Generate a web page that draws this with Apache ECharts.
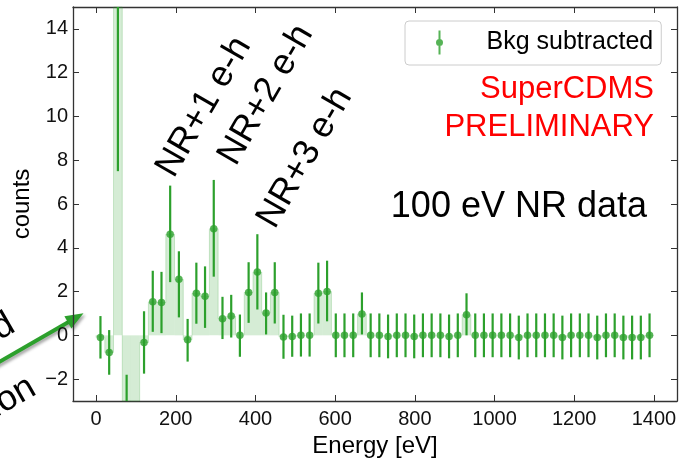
<!DOCTYPE html>
<html>
<head>
<meta charset="utf-8">
<script src="https://cdn.jsdelivr.net/npm/echarts@6/dist/echarts.min.js"></script>
<style>
  html, body { margin: 0; padding: 0; background: #fff; }
  #chart { width: 681px; height: 458px; }
</style>
</head>
<body>
<div id="chart"></div>
<script>
// bin centres [eV], 64 bins of 21.875 eV
const energy = [
  10.9, 32.8, 54.7, 76.6, 98.4, 120.3, 142.2, 164.1, 185.9, 207.8,
  229.7, 251.6, 273.4, 295.3, 317.2, 339.1, 360.9, 382.8, 404.7, 426.6,
  448.4, 470.3, 492.2, 514.1, 535.9, 557.8, 579.7, 601.6, 623.4, 645.3,
  667.2, 689.1, 710.9, 732.8, 754.7, 776.6, 798.4, 820.3, 842.2, 864.1,
  885.9, 907.8, 929.7, 951.6, 973.4, 995.3, 1017.2, 1039.1, 1060.9, 1082.8,
  1104.7, 1126.6, 1148.4, 1170.3, 1192.2, 1214.1, 1235.9, 1257.8, 1279.7, 1301.6,
  1323.4, 1345.3, 1367.2, 1389.1
];
const BIN_WIDTH = 21.875;

// background subtracted counts
const counts = [
  -0.1, -0.78, 20, -5.5, -6, -0.33, 1.53, 1.5, 4.62, 2.56,
  -0.2, 1.92, 1.78, 4.87, 0.76, 0.88, 0, 1.96, 2.89, 1.02,
  1.96, -0.08, -0.05, 0, 0, 1.92, 2.0, 0, 0, 0,
  0.98, 0, 0, -0.05, 0, 0, -0.05, 0, 0, 0,
  -0.05, 0, 0.94, 0, 0, 0, 0, 0, -0.1, 0,
  0, 0, 0, -0.1, 0, 0, 0, -0.1, 0, 0,
  -0.1, -0.1, -0.1, 0
];
// error bar ends
const barLow = [
  -1.06, -1.8, 7.5, -9.2, -8.5, -1.75, 0.16, 0.1, 2.43, 0.82,
  -1.2, 0.53, 0.34, 2.68, -0.17, -0.1, -0.98, 0.57, 1.18, 0.04,
  0.54, -1.07, -0.98, -0.97, -0.97, 0.54, 0.64, -1.0, -1.0, -1.0,
  0.04, -1.0, -1.0, -1.05, -1.0, -1.0, -1.05, -1.0, -1.0, -1.0,
  -1.05, -1.0, 0.0, -1.0, -1.0, -1.0, -1.0, -1.0, -1.1, -1.0,
  -1.0, -1.0, -1.0, -1.1, -1.0, -1.0, -1.0, -1.1, -1.0, -1.0,
  -1.1, -1.1, -1.1, -1.0
];
const barHigh = [
  0.88, 0.24, 32.5, -1.8, -3.5, 1.1, 2.95, 2.9, 6.84, 3.84,
  0.75, 3.32, 3.15, 7.1, 1.76, 1.85, 0.95, 3.34, 4.62, 1.96,
  3.34, 0.94, 0.9, 1.0, 1.0, 3.32, 3.41, 1.0, 1.0, 1.0,
  1.96, 1.0, 1.0, 0.95, 1.0, 1.0, 0.95, 1.0, 1.0, 1.0,
  0.95, 1.0, 1.92, 1.0, 1.0, 1.0, 1.0, 1.0, 0.9, 1.0,
  1.0, 1.0, 1.0, 0.9, 1.0, 1.0, 1.0, 0.9, 1.0, 1.0,
  0.9, 0.9, 0.9, 1.0
];

const xTicks = [0, 200, 400, 600, 800, 1000, 1200, 1400];
const yTicks = [-2, 0, 2, 4, 6, 8, 10, 12, 14];
const X_MIN = -58, X_MAX = 1458, Y_MIN = -3, Y_MAX = 15;

const green = '#2ca02c';
const font = "'Liberation Sans', Arial, sans-serif";

const clampY = (v) => Math.max(Y_MIN, Math.min(Y_MAX, v));

const chart = echarts.init(document.getElementById('chart'));

const axisLineStyle = { color: '#333', width: 1.3 };
const tickStyle = { show: true, inside: true, length: 6, lineStyle: { color: '#333', width: 1 } };

const option = {
  animation: false,
  textStyle: { fontFamily: font },
  grid: { left: 73, top: 7, width: 604, height: 394, containLabel: false, outerBoundsMode: 'none' },
  legend: {
    data: ['Bkg subtracted'],
    left: 405,
    top: 21,
    padding: [9, 8, 10, 31],
    itemWidth: 20,
    itemHeight: 24,
    icon: 'path://M2.5,0L4.5,0L4.5,24L2.5,24Z M7,12A3.5,3.5,0,1,1,0,12A3.5,3.5,0,1,1,7,12Z',
    selectedMode: false,
    backgroundColor: 'rgba(255,255,255,0.8)',
    borderColor: '#cccccc',
    borderWidth: 1,
    borderRadius: 4,
    textStyle: { fontSize: 25, color: '#000', fontFamily: font, padding: [0, 0, 0, 32] }
  },
  xAxis: [
    {
      type: 'value', min: X_MIN, max: X_MAX,
      name: 'Energy [eV]', nameLocation: 'middle', nameGap: 31,
      nameTextStyle: { fontSize: 24, color: '#000', fontFamily: font },
      axisLine: { show: true, onZero: false, lineStyle: axisLineStyle },
      axisTick: Object.assign({ customValues: xTicks }, tickStyle),
      axisLabel: { customValues: xTicks, fontSize: 20, color: '#111', margin: 8, fontFamily: font, formatter: (v) => String(v) },
      splitLine: { show: false }
    },
    {
      type: 'value', min: X_MIN, max: X_MAX, position: 'top',
      axisLine: { show: true, onZero: false, lineStyle: axisLineStyle },
      axisTick: Object.assign({ customValues: xTicks }, tickStyle),
      axisLabel: { show: false },
      splitLine: { show: false }
    }
  ],
  yAxis: [
    {
      type: 'value', min: Y_MIN, max: Y_MAX,
      name: 'counts', nameLocation: 'middle', nameGap: 30,
      nameTextStyle: { fontSize: 24, color: '#000', fontFamily: font },
      axisLine: { show: true, onZero: false, lineStyle: axisLineStyle },
      axisTick: Object.assign({ customValues: yTicks }, tickStyle),
      axisLabel: { customValues: yTicks, fontSize: 20, color: '#111', margin: 5, fontFamily: font, padding: [4, 0, 0, 0], formatter: (v) => String(v).replace('-', '\u2212') },
      splitLine: { show: false }
    },
    {
      type: 'value', min: Y_MIN, max: Y_MAX, position: 'right',
      axisLine: { show: true, onZero: false, lineStyle: axisLineStyle },
      axisTick: Object.assign({ customValues: yTicks }, tickStyle),
      axisLabel: { show: false },
      splitLine: { show: false }
    }
  ],
  series: [
    // shaded steps between 0 and each bin value
    {
      type: 'custom',
      name: 'steps',
      z: 1,
      silent: true,
      data: energy.map((e, i) => [e, counts[i], i]),
      renderItem: function (params, api) {
        const x = api.value(0), v = api.value(1), i = api.value(2);
        const p0 = api.coord([x - BIN_WIDTH / 2, 0]);
        const p1 = api.coord([x + BIN_WIDTH / 2, v]);
        const rect = echarts.graphic.clipRectByRect({
          x: p0[0], y: Math.min(p0[1], p1[1]),
          width: p1[0] - p0[0], height: Math.abs(p1[1] - p0[1])
        }, params.coordSys);
        const children = [];
        if (rect) {
          children.push({ type: 'rect', shape: rect, style: { fill: 'rgba(44,160,44,0.2)' } });
        }
        // outline: rise from previous bin, then top edge
        const prev = i > 0 ? counts[i - 1] : 0;
        const a = api.coord([x - BIN_WIDTH / 2, clampY(prev)]);
        const b = api.coord([x - BIN_WIDTH / 2, clampY(v)]);
        const c = api.coord([x + BIN_WIDTH / 2, clampY(v)]);
        const pts = Math.abs(v) > 0.15 ? [a, b, c] : [a, b];
        if (i === counts.length - 1) pts.push(api.coord([x + BIN_WIDTH / 2, 0]));
        children.push({ type: 'polyline', shape: { points: pts }, style: { stroke: 'rgba(44,160,44,0.22)', lineWidth: 1, fill: null } });
        return { type: 'group', children: children };
      }
    },
    // error bars
    {
      type: 'custom',
      name: 'errors',
      z: 2,
      silent: true,
      data: energy.map((e, i) => [e, barLow[i], barHigh[i]]),
      renderItem: function (params, api) {
        const lo = clampY(api.value(1)), hi = clampY(api.value(2));
        if (lo === hi) return null;
        const p0 = api.coord([api.value(0), lo]);
        const p1 = api.coord([api.value(0), hi]);
        return {
          type: 'line',
          shape: { x1: p0[0], y1: p0[1], x2: p1[0], y2: p1[1] },
          style: { stroke: green, lineWidth: 2.2 }
        };
      }
    },
    {
      type: 'scatter',
      name: 'Bkg subtracted',
      z: 3,
      symbol: 'circle',
      symbolSize: 7.5,
      itemStyle: { color: green },
      data: energy.map((e, i) => [e, counts[i]])
    }
  ],
  graphic: [
    { type: 'text', x: 654, y: 89, style: { text: 'SuperCDMS', fill: '#ff0000', font: '31px ' + font, align: 'right', verticalAlign: 'middle' } },
    { type: 'text', x: 654, y: 127, style: { text: 'PRELIMINARY', fill: '#ff0000', font: '31px ' + font, align: 'right', verticalAlign: 'middle' } },
    { type: 'text', x: 647, y: 207, style: { text: '100 eV NR data', fill: '#000', font: '36px ' + font, align: 'right', verticalAlign: 'middle' } },
    { type: 'text', x: 204, y: 107, rotation: 60 * Math.PI / 180, style: { text: 'NR+1 e-h', fill: '#000', font: '36px ' + font, align: 'center', verticalAlign: 'middle' } },
    { type: 'text', x: 266, y: 95, rotation: 60 * Math.PI / 180, style: { text: 'NR+2 e-h', fill: '#000', font: '36px ' + font, align: 'center', verticalAlign: 'middle' } },
    { type: 'text', x: 305, y: 158, rotation: 60 * Math.PI / 180, style: { text: 'NR+3 e-h', fill: '#000', font: '36px ' + font, align: 'center', verticalAlign: 'middle' } },
    // annotation text cut off at the figure edge
    { type: 'text', x: 12, y: 322, rotation: 30 * Math.PI / 180, style: { text: 'ed', fill: '#000', font: '36px ' + font, align: 'right', verticalAlign: 'middle' } },
    { type: 'text', x: 33, y: 385, rotation: 30 * Math.PI / 180, style: { text: 'ion', fill: '#000', font: '36px ' + font, align: 'right', verticalAlign: 'middle' } },
    // arrow
    {
      type: 'group',
      children: [
        {
          type: 'line',
          shape: { x1: -10, y1: 367.3, x2: 69, y2: 321.7 },
          style: { stroke: green, lineWidth: 4, shadowBlur: 3, shadowColor: 'rgba(0,0,0,0.35)', shadowOffsetX: 2, shadowOffsetY: 2 }
        },
        {
          type: 'polygon',
          shape: { points: [[83.5, 313.3], [71.4, 328.4], [64.4, 316.2]] },
          style: { fill: green, shadowBlur: 3, shadowColor: 'rgba(0,0,0,0.35)', shadowOffsetX: 2, shadowOffsetY: 2 }
        }
      ]
    }
  ]
};

chart.setOption(option);
</script>
</body>
</html>
